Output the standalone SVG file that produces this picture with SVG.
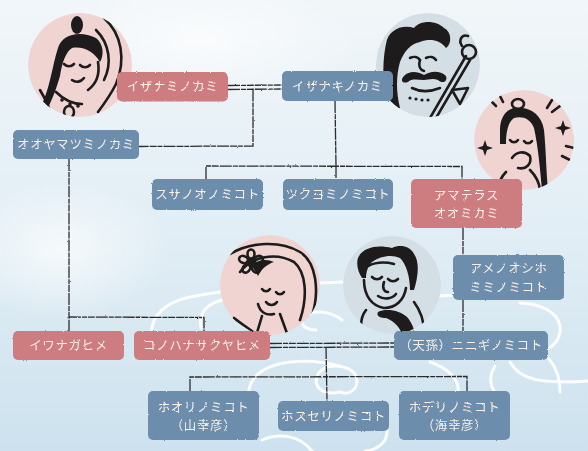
<svg xmlns="http://www.w3.org/2000/svg" width="588" height="451" viewBox="0 0 588 451">
  <defs>
    <linearGradient id="sky" x1="0" y1="0" x2="0" y2="1">
      <stop offset="0" stop-color="#f1f6f9"/>
      <stop offset="0.5" stop-color="#e2eef5"/>
      <stop offset="1" stop-color="#cde2ee"/>
    </linearGradient>
    <radialGradient id="haze" cx="0.5" cy="0.5" r="0.5">
      <stop offset="0" stop-color="#ffffff" stop-opacity="0.7"/>
      <stop offset="1" stop-color="#ffffff" stop-opacity="0"/>
    </radialGradient>
    <filter id="rough" x="-5%" y="-10%" width="110%" height="120%">
      <feTurbulence type="fractalNoise" baseFrequency="0.9" numOctaves="2" seed="4"/>
      <feDisplacementMap in="SourceGraphic" scale="2.2"/>
    </filter>
    <filter id="sketch" x="-5%" y="-5%" width="110%" height="110%">
      <feTurbulence type="fractalNoise" baseFrequency="0.7" numOctaves="2" seed="9"/>
      <feDisplacementMap in="SourceGraphic" scale="1.8"/>
    </filter>
    <clipPath id="cIzanami"><circle cx="80" cy="65" r="52"/></clipPath>
    <clipPath id="cIzanagi"><circle cx="428" cy="65" r="52"/></clipPath>
    <clipPath id="cAmaterasu"><circle cx="524" cy="140" r="50"/></clipPath>
    <clipPath id="cKonohana"><circle cx="270" cy="285" r="50"/></clipPath>
    <clipPath id="cNinigi"><circle cx="392" cy="285" r="49"/></clipPath>
    <style>
      .pink { fill: #cd7b7f; }
      .blue { fill: #6c8dac; }
      .t { font-family: "Noto Sans CJK JP", "Noto Sans", sans-serif; font-size: 12.5px; fill: #f6efe6; text-anchor: middle; letter-spacing: 0.6px; }
      .ln { fill: none; stroke: #2e2c2c; stroke-width: 1.3; stroke-dasharray: 12 1 5 0.8 7 1; }
      .cloud { fill: none; stroke: #ffffff; stroke-width: 3; stroke-linecap: round; opacity: 0.9; }
      .ink { fill: none; stroke: #1d1b1b; stroke-width: 2.6; stroke-linecap: round; stroke-linejoin: round; }
      .inkf { fill: #1d1b1b; }
      .bgPink { fill: #efd4d2; }
      .bgGray { fill: #d4dee5; }
    </style>
  </defs>

  <!-- sky background -->
  <rect width="588" height="451" fill="url(#sky)"/>
  <ellipse cx="60" cy="250" rx="110" ry="70" fill="url(#haze)"/>
  <ellipse cx="200" cy="40" rx="160" ry="60" fill="url(#haze)"/>

  <!-- white swirl clouds -->
  <g id="clouds">
    <path class="cloud" d="M152,334 C150,316 166,302 190,297 C205,294 220,292 236,290"/>
    <path class="cloud" d="M201,328 C198,314 206,304 222,300"/>
    <path class="cloud" d="M316,283 L346,282"/>
    <path class="cloud" d="M438,296 L456,295"/>
    <path class="cloud" d="M520,303 C545,304 562,315 560,332 C558,346 545,352 530,356"/>
    <path class="cloud" d="M316,330 C300,330 296,317 310,313 C322,310 335,314 342,320"/>
    <path class="cloud" d="M510,362 C520,380 540,384 588,381"/>
    <path class="cloud" d="M495,366 C486,380 492,395 506,400"/>
    <path class="cloud" d="M250,404 C244,382 258,366 290,362 C310,360 325,362 340,366"/>
    <path class="cloud" d="M340,392 C322,396 312,386 318,374 C325,362 350,364 356,376 C360,388 350,396 340,392"/>
    <path class="cloud" d="M360,404 C380,410 392,424 385,440 C380,448 370,451 365,451"/>
    <path class="cloud" d="M262,440 C280,432 300,436 312,451"/>
    <path class="cloud" d="M430,362 C448,368 460,380 458,392"/>
    <path class="cloud" d="M545,355 C556,365 560,378 560,392"/>
  </g>

  <!-- portraits -->
  <g id="portrait-izanami" clip-path="url(#cIzanami)">
    <circle class="bgPink" cx="80" cy="65" r="52"/>
    <ellipse class="inkf" cx="77" cy="25" rx="6" ry="9"/>
    <path class="inkf" d="M58,48 C62,34 80,30 96,38 C104,44 104,56 100,62 C94,52 84,46 72,48 C66,52 62,62 60,76 C56,90 52,100 46,112 L40,108 C50,90 52,66 58,48 Z"/>
    <path class="ink" d="M64,64 C67,67 71,67 74,64"/>
    <path class="ink" d="M80,65 C83,68 87,68 90,65"/>
    <path class="ink" d="M72,80 C76,83 81,82 84,78"/>
    <path class="ink" d="M98,62 C100,74 96,84 88,90"/>
    <path class="ink" d="M104,18 C122,34 126,60 116,84 C110,96 104,104 98,112" stroke-width="4"/>
    <path class="ink" d="M96,30 C110,44 112,64 104,80"/>
    <path class="ink" d="M56,92 C64,100 72,104 82,104"/>
    <circle class="inkf" cx="62" cy="100" r="1.8"/><circle class="inkf" cx="70" cy="104" r="1.8"/>
    <circle class="inkf" cx="78" cy="106" r="1.8"/>
    <ellipse class="ink" cx="69" cy="112" rx="5" ry="6"/>
    <path class="ink" d="M40,90 C46,100 50,108 52,118"/>
  </g>

  <g id="portrait-izanagi" clip-path="url(#cIzanagi)">
    <circle class="bgGray" cx="428" cy="65" r="52"/>
    <path class="inkf" d="M386,44 C388,30 402,24 414,28 C420,20 436,20 444,28 C452,32 452,44 446,48 C440,40 430,38 420,42 C410,44 404,52 400,62 C396,76 396,92 400,108 L390,112 C382,92 382,62 386,44 Z"/>
    <path class="ink" d="M410,58 C414,56 418,57 420,60"/>
    <path class="ink" d="M426,58 C430,56 434,57 436,60"/>
    <path class="ink" d="M420,60 C418,66 420,70 424,71"/>
    <path class="inkf" d="M404,76 C410,70 418,72 424,75 C430,71 440,70 446,76 C448,82 442,84 438,80 C432,78 428,80 424,80 C418,80 412,78 408,82 C402,84 400,80 404,76 Z"/>
    <path class="ink" d="M412,88 C420,92 430,92 440,88"/>
    <circle class="inkf" cx="410" cy="98" r="1.6"/><circle class="inkf" cx="416" cy="99" r="1.6"/>
    <circle class="inkf" cx="422" cy="100" r="1.6"/><circle class="inkf" cx="428" cy="100" r="1.6"/>
    <path class="ink" d="M430,118 L466,56" stroke-width="5"/>
    <path class="ink" d="M436,118 L470,60" stroke-width="2"/>
    <circle class="ink" cx="469" cy="52" r="7" stroke-width="3"/>
    <path class="ink" d="M462,46 C458,40 462,34 468,36"/>
    <path class="ink" d="M452,90 L468,88 L460,104 Z"/>
  </g>

  <g id="portrait-amaterasu" clip-path="url(#cAmaterasu)">
    <circle class="bgPink" cx="524" cy="140" r="50"/>
    <ellipse class="ink" cx="518" cy="104" rx="6" ry="5"/>
    <path class="inkf" d="M500,130 C500,114 510,106 520,108 C532,108 542,116 544,130 C546,150 546,168 548,190 L542,190 C540,168 538,146 534,128 C530,118 522,116 514,118 C508,122 506,132 506,144 L500,144 Z"/>
    <path class="ink" d="M510,140 C512,143 516,143 518,140"/>
    <path class="ink" d="M524,141 C526,144 530,144 532,141"/>
    <path class="ink" d="M512,158 C516,152 524,150 530,156 C532,164 526,170 518,168"/>
    <path class="ink" d="M506,172 C500,178 498,186 498,192"/>
    <path class="ink" d="M530,170 C536,176 540,184 540,192"/>
    <path class="inkf" d="M485,140 L487,146 L493,148 L487,150 L485,156 L483,150 L477,148 L483,146 Z"/>
    <path class="inkf" d="M563,120 L565,126 L571,128 L565,130 L563,136 L561,130 L555,128 L561,126 Z"/>
    <path class="ink" d="M490,100 L496,106" stroke-width="2.2"/>
    <path class="ink" d="M500,96 L503,102" stroke-width="2.2"/>
    <path class="ink" d="M552,100 L547,108" stroke-width="2.2"/>
    <path class="ink" d="M560,106 L552,112" stroke-width="2.2"/>
    <path class="ink" d="M566,146 L574,148" stroke-width="2.2"/>
    <path class="ink" d="M562,156 L570,160" stroke-width="2.2"/>
  </g>

  <g id="portrait-konohana" clip-path="url(#cKonohana)">
    <circle class="bgPink" cx="270" cy="285" r="50"/>
    <path class="ink" d="M230,254 C250,242 280,240 300,252 C316,262 320,290 312,316" stroke-width="3"/>
    <path class="ink" d="M240,272 C252,256 276,252 294,262 C306,272 308,296 300,320"/>
    <path class="inkf" d="M252,266 C256,260 266,258 274,262 C268,264 262,268 258,276 Z"/>
    <g transform="translate(251,262)">
      <circle class="inkf" r="4"/>
      <ellipse class="ink" cx="0" cy="-8" rx="3.5" ry="4.5" stroke-width="2"/>
      <ellipse class="ink" cx="7.5" cy="-2.5" rx="3.5" ry="4.5" stroke-width="2" transform="rotate(72 7.5 -2.5)"/>
      <ellipse class="ink" cx="4.7" cy="6.5" rx="3.5" ry="4.5" stroke-width="2" transform="rotate(144 4.7 6.5)"/>
      <ellipse class="ink" cx="-4.7" cy="6.5" rx="3.5" ry="4.5" stroke-width="2" transform="rotate(216 -4.7 6.5)"/>
      <ellipse class="ink" cx="-7.5" cy="-2.5" rx="3.5" ry="4.5" stroke-width="2" transform="rotate(288 -7.5 -2.5)"/>
    </g>
    <path class="ink" d="M262,289 C264,292 268,292 270,289" stroke-width="2"/>
    <path class="ink" d="M276,292 C278,295 282,295 284,292" stroke-width="2"/>
    <path class="ink" d="M266,302 C269,306 274,306 277,302" stroke-width="2"/>
    <path class="ink" d="M258,304 C260,312 266,316 274,314"/>
    <path class="ink" d="M262,316 L256,336"/>
    <path class="ink" d="M280,314 L288,336"/>
    <path class="ink" d="M234,318 C244,326 252,330 258,336"/>
  </g>

  <g id="portrait-ninigi" clip-path="url(#cNinigi)">
    <circle class="bgGray" cx="392" cy="285" r="49"/>
    <path class="inkf" d="M358,258 C362,248 376,244 392,248 C400,244 410,246 414,254 C420,262 418,278 414,290 L410,290 C410,276 406,264 400,258 C392,254 380,256 372,262 C368,266 366,272 366,278 L362,278 C358,272 356,264 358,258 Z"/>
    <path class="ink" d="M368,266 C376,262 386,262 394,264"/>
    <path class="ink" d="M372,277 C375,280 379,280 382,277" stroke-width="2.2"/>
    <path class="ink" d="M388,279 C391,282 395,282 398,279" stroke-width="2.2"/>
    <path class="ink" d="M384,282 C382,288 384,292 388,292"/>
    <path class="ink" d="M378,296 C384,300 392,299 396,294"/>
    <path class="ink" d="M364,280 C364,296 372,306 384,308 C396,308 404,300 406,288"/>
    <path class="inkf" d="M378,312 C386,308 400,310 408,318 C414,326 416,334 414,340 L404,340 C402,330 396,322 386,318 C380,318 376,316 378,312 Z"/>
    <path class="ink" d="M366,310 C360,318 360,328 364,338"/>
    <path class="ink" d="M414,302 C420,310 424,320 424,332"/>
  </g>

  <!-- connectors -->
  <g id="connectors" filter="url(#sketch)">
    <!-- Izanami = Izanagi -->
    <path class="ln" d="M228,85.5 L282,85"/>
    <path class="ln" d="M228,89.5 L282,89"/>
    <path class="ln" d="M253,89.5 L253,146 L139,146.5"/>
    <!-- Izanagi's children -->
    <path class="ln" d="M335,101 L336,166"/>
    <path class="ln" d="M206,179 L206,166 L462,166.5 L462,179"/>
    <path class="ln" d="M336,166 L336,179"/>
    <!-- Amaterasu line -->
    <path class="ln" d="M463,228 L463,255"/>
    <path class="ln" d="M463,300 L463,331"/>
    <!-- Oyamatsumi's daughters -->
    <path class="ln" d="M69,159 L69,331"/>
    <path class="ln" d="M69,317 L204,317.5 L204,331"/>
    <!-- Konohanasakuya = Ninigi -->
    <path class="ln" d="M270,343.5 L394,343"/>
    <path class="ln" d="M270,347.5 L394,347"/>
    <path class="ln" d="M326,347 L327,401"/>
    <path class="ln" d="M190,391 L190,377 L467,376.5 L467,391"/>
  </g>

  <!-- nodes -->
  <g id="n-izanami" filter="url(#rough)">
    <rect class="pink" x="117" y="72" width="111" height="29.5" rx="5"/>
    <text class="t" x="172.5" y="91">イザナミノカミ</text>
  </g>
  <g id="n-izanagi" filter="url(#rough)">
    <rect class="blue" x="282" y="71" width="111" height="30" rx="5"/>
    <text class="t" x="337.5" y="90.5">イザナキノカミ</text>
  </g>
  <g id="n-oyamatsumi" filter="url(#rough)">
    <rect class="blue" x="13" y="130" width="126" height="29" rx="5"/>
    <text class="t" x="76" y="149">オオヤマツミノカミ</text>
  </g>
  <g id="n-susano" filter="url(#rough)">
    <rect class="blue" x="152" y="179" width="111" height="31" rx="5"/>
    <text class="t" x="207.5" y="199">スサノオノミコト</text>
  </g>
  <g id="n-tsukuyomi" filter="url(#rough)">
    <rect class="blue" x="283" y="179" width="110" height="31" rx="5"/>
    <text class="t" x="338" y="199">ツクヨミノミコト</text>
  </g>
  <g id="n-amaterasu" filter="url(#rough)">
    <rect class="pink" x="411" y="179" width="111" height="49" rx="5"/>
    <text class="t" x="466.5" y="199.5">アマテラス</text>
    <text class="t" x="466.5" y="217.5">オオミカミ</text>
  </g>
  <g id="n-amenooshiho" filter="url(#rough)">
    <rect class="blue" x="453" y="255" width="111" height="45" rx="5"/>
    <text class="t" x="508.5" y="273">アメノオシホ</text>
    <text class="t" x="508.5" y="292">ミミノミコト</text>
  </g>
  <g id="n-iwanaga" filter="url(#rough)">
    <rect class="pink" x="13" y="331" width="111" height="29" rx="5"/>
    <text class="t" x="68.5" y="350">イワナガヒメ</text>
  </g>
  <g id="n-konohana" filter="url(#rough)">
    <rect class="pink" x="134" y="331" width="136" height="29" rx="5"/>
    <text class="t" x="202" y="350">コノハナサクヤヒメ</text>
  </g>
  <g id="n-ninigi" filter="url(#rough)">
    <rect class="blue" x="394" y="331" width="154" height="29" rx="5"/>
    <text class="t" x="471" y="350">（天孫）ニニギノミコト</text>
  </g>
  <g id="n-hoori" filter="url(#rough)">
    <rect class="blue" x="148" y="391" width="111" height="49" rx="5"/>
    <text class="t" x="203.5" y="411.5">ホオリノミコト</text>
    <text class="t" x="203.5" y="429.5">（山幸彦）</text>
  </g>
  <g id="n-hosuseri" filter="url(#rough)">
    <rect class="blue" x="278" y="401" width="111" height="30" rx="5"/>
    <text class="t" x="333.5" y="420.5">ホスセリノミコト</text>
  </g>
  <g id="n-hoderi" filter="url(#rough)">
    <rect class="blue" x="399" y="391" width="111" height="49" rx="5"/>
    <text class="t" x="454.5" y="411.5">ホデリノミコト</text>
    <text class="t" x="454.5" y="429.5">（海幸彦）</text>
  </g>
</svg>
